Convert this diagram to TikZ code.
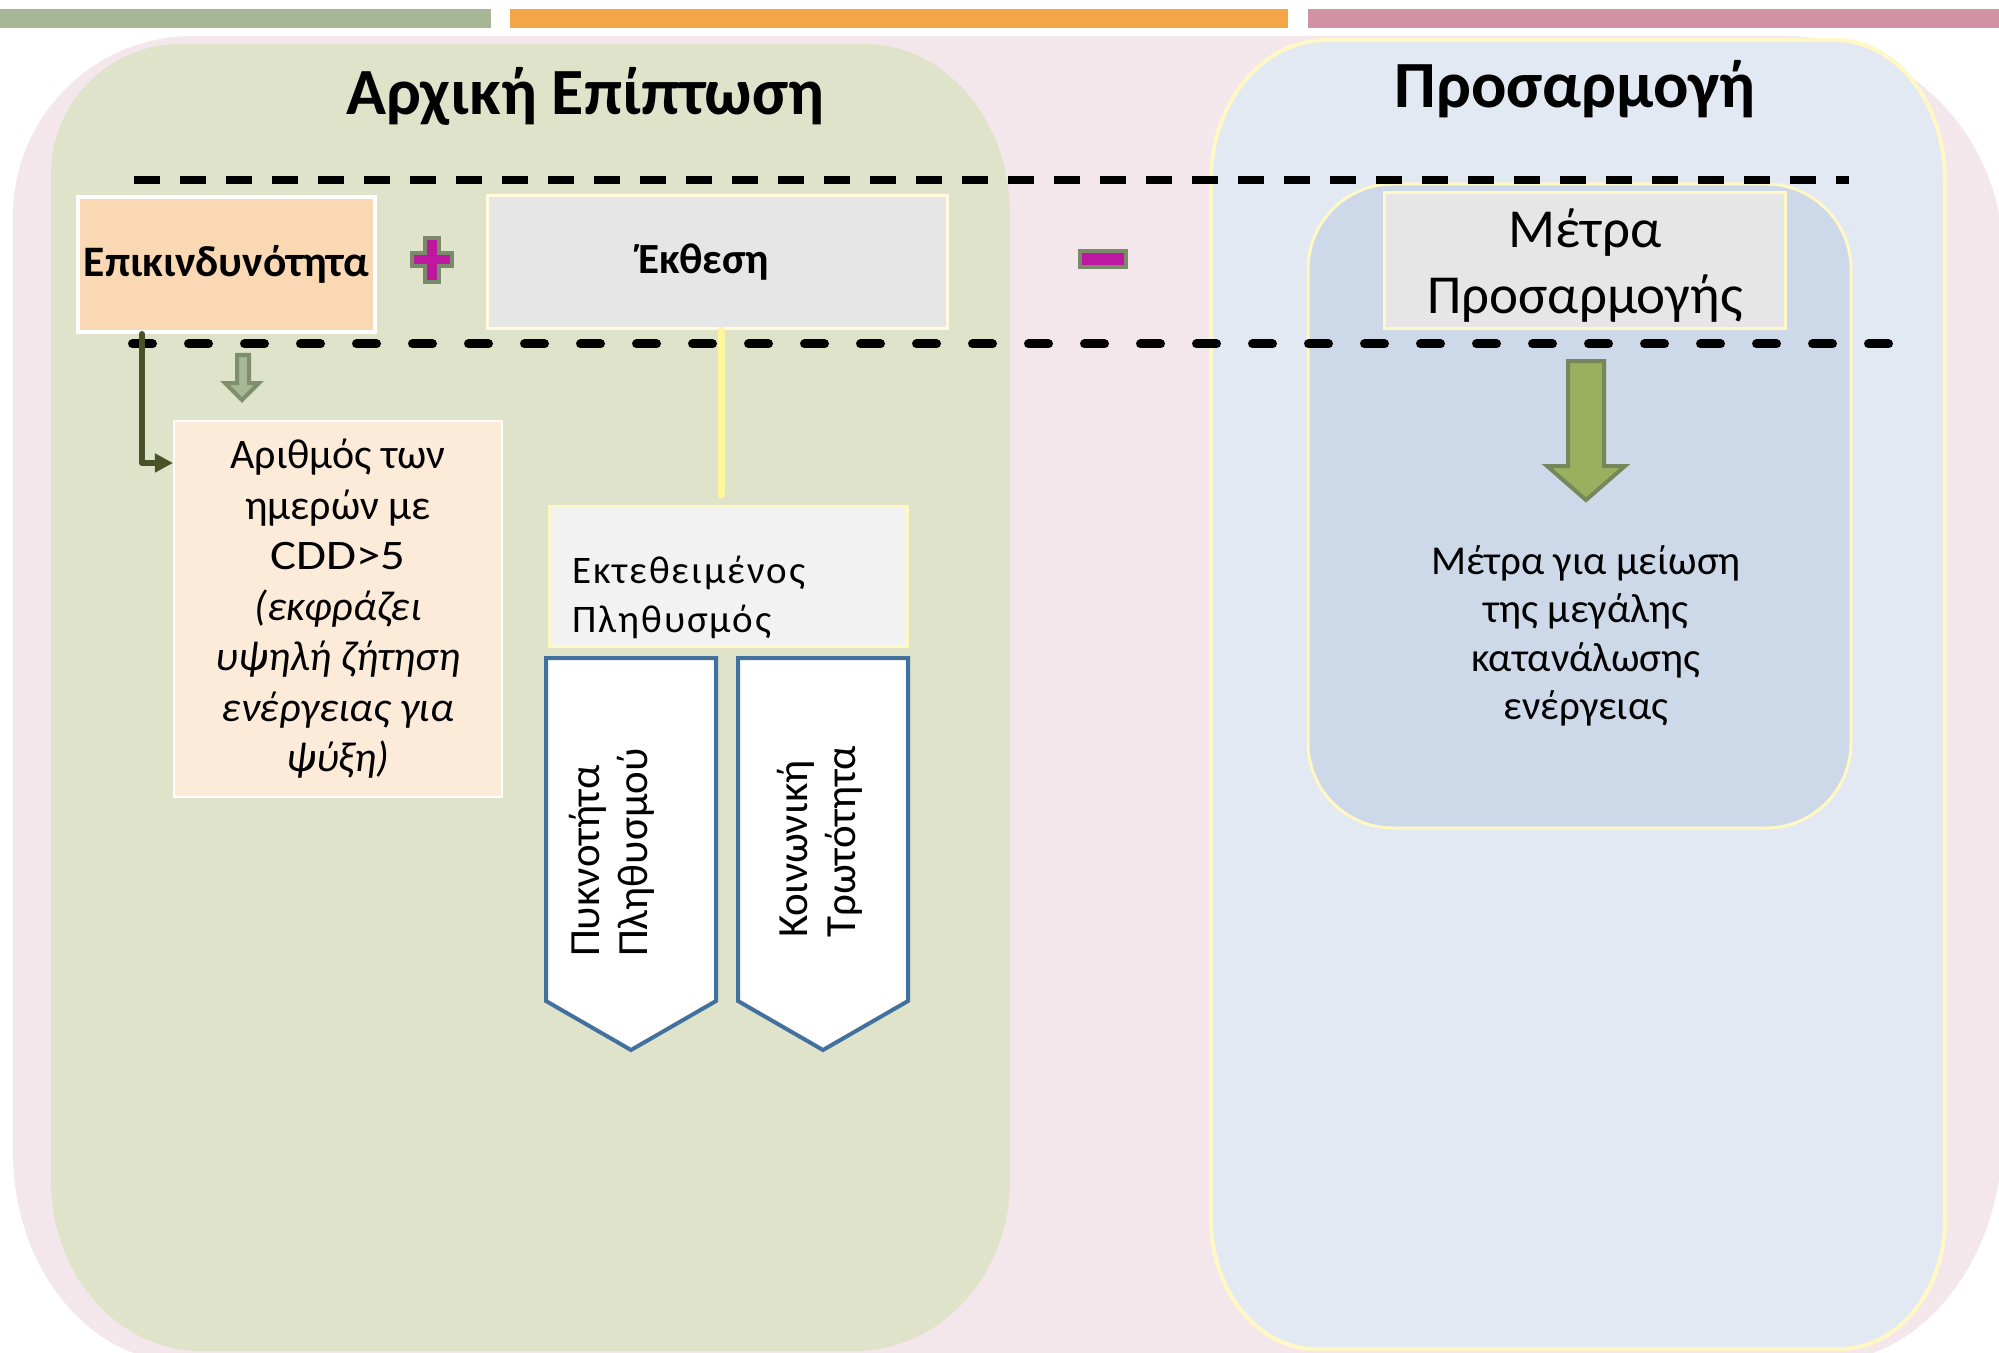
\documentclass[tikz,border=0pt]{standalone}
\usepackage{fontspec}
\setmainfont{Carlito}
\usetikzlibrary{arrows.meta}
\definecolor{barG}{HTML}{A7B694}
\definecolor{barO}{HTML}{F3A548}
\definecolor{barP}{HTML}{D192A6}
\definecolor{pinkbg}{HTML}{F3E7EC}
\definecolor{greenp}{HTML}{DFE3CA}
\definecolor{bluep}{HTML}{E3E9F2}
\definecolor{innerb}{HTML}{CDD9E8}
\definecolor{yellowb}{HTML}{FFF8C5}
\definecolor{peach}{HTML}{FAD8B3}
\definecolor{lpeach}{HTML}{FDEBDA}
\definecolor{grayb}{HTML}{E6E6E6}
\definecolor{lgrayb}{HTML}{F2F2F2}
\definecolor{pentblue}{HTML}{41719C}
\definecolor{olived}{HTML}{4A5327}
\definecolor{crossol}{HTML}{7C8A6C}
\definecolor{magent}{HTML}{BE17A0}
\definecolor{sarrF}{HTML}{A8B795}
\definecolor{sarrD}{HTML}{7E8F6B}
\definecolor{barrF}{HTML}{9BB05F}
\definecolor{barrD}{HTML}{76875C}
\definecolor{yline}{HTML}{FFF59C}
\begin{document}
\begin{tikzpicture}[x=1bp,y=-1bp,
  boxst/.style={rectangle, inner sep=0pt, align=center},
  dashA/.style={line width=8bp, dash pattern=on 26bp off 20bp},
  dashB/.style={line width=9bp, line cap=round, dash pattern=on 20bp off 36bp},
  pent/.style={draw=pentblue, fill=white, line width=4bp, line join=miter},
  signst/.style={draw=crossol, fill=magent, line width=4bp, line join=miter},
  conn/.style={draw=olived, line width=6bp, line cap=round, line join=round,
     -{Triangle[length=18bp,width=18bp]}},
  yconn/.style={draw=yline, line width=7bp, line cap=round},
  rottext/.style={rotate=90, anchor=west, align=left, inner sep=0pt,
     font=\fontsize{43bp}{48bp}\selectfont}
]
\useasboundingbox (0,0) rectangle (1999,1353);
\clip (0,0) rectangle (1999,1353);
\fill[white] (0,0) rectangle (1999,1353);
% top bars
\fill[barG] (0,9) rectangle (491,28);
\fill[barO] (510,9) rectangle (1288,28);
\fill[barP] (1308,9) rectangle (1999,28);
% pink background
\fill[pinkbg] (13,216) arc[start angle=180,end angle=270,radius=180]
  -- (1783,36) arc[start angle=270,end angle=360,radius=220]
  -- (2003,1132) arc[start angle=0,end angle=90,x radius=180,y radius=230]
  -- (183,1362) arc[start angle=90,end angle=180,x radius=170,y radius=210]
  -- cycle;
% green panel
\fill[greenp] (51,174) arc[start angle=180,end angle=270,radius=130]
  -- (865,44) arc[start angle=270,end angle=360,x radius=145,y radius=170]
  -- (1010,1181) arc[start angle=0,end angle=90,x radius=155,y radius=170]
  -- (201,1351) arc[start angle=90,end angle=180,x radius=150,y radius=170]
  -- cycle;
% blue panel
\draw[fill=bluep, draw=yellowb, line width=4bp]
  (1211,180) arc[start angle=180,end angle=270,x radius=115,y radius=140]
  -- (1835,40) arc[start angle=270,end angle=360,x radius=110,y radius=140]
  -- (1945,1219) arc[start angle=0,end angle=90,x radius=105,y radius=130]
  -- (1316,1349) arc[start angle=90,end angle=180,x radius=105,y radius=130]
  -- cycle;
% inner blue rounded rectangle
\draw[fill=innerb, draw=yellowb, line width=3bp, rounded corners=85bp]
  (1308,184) rectangle (1851,828);
% titles
\node[inner sep=0pt, anchor=base, font=\bfseries\fontsize{66bp}{80bp}\selectfont]
  (t1) at (585,115) {Αρχική Επίπτωση};
\node[inner sep=0pt, anchor=base, font=\bfseries\fontsize{66bp}{80bp}\selectfont]
  (t2) at (1575,108) {Προσαρμογή};
% dashed lines
\draw[dashA] (134,180) -- (1849,180);
\draw[dashB] (132.5,344) -- (1895,344);
% boxes
\node[boxst, fill=peach, draw=white, line width=4bp, minimum width=297bp,
  minimum height=135bp, font=\bfseries\fontsize{43.5bp}{50bp}\selectfont]
  (risk) at (226.5,264.5) {Επικινδυνότητα};
\node[boxst, fill=grayb, draw=yellowb!60!white, line width=3bp, minimum width=460bp,
  minimum height=133bp, font=\bfseries\fontsize{43bp}{50bp}\selectfont]
  (ekth) at (717.5,262) {Έκθεση\kern28bp};
\node[boxst, fill=lpeach, draw=white, line width=2bp, minimum width=328bp,
  minimum height=376bp, font=\fontsize{42bp}{50.5bp}\selectfont]
  (arith) at (338,609) {Αριθμός των\\ημερών με\\\scalebox{1.16}[1]{CDD>5}\\\textit{(εκφράζει}\\\textit{υψηλή ζήτηση}\\\textit{ενέργειας για}\\\textit{ψύξη)}};
\node[boxst, fill=lgrayb, draw=yellowb, line width=3bp, minimum width=358bp,
  minimum height=140bp] (ekt) at (728.5,576.5) {};
\node[inner sep=0pt, anchor=base west, font=\fontsize{39bp}{49bp}\selectfont\addfontfeatures{LetterSpace=5}]
  (ekt1) at (572,583) {Εκτεθειμένος};
\node[inner sep=0pt, anchor=base west, font=\fontsize{39bp}{49bp}\selectfont\addfontfeatures{LetterSpace=5}]
  (ekt2) at (572,632) {Πληθυσμός};
\node[boxst, fill=grayb, draw=yellowb, line width=3bp, minimum width=401bp,
  minimum height=136bp] (metra) at (1585,260.5) {};
\node[inner sep=0pt, align=center, font=\fontsize{55bp}{66bp}\selectfont]
  (metrat) at (1585,266) {Μέτρα\\Προσαρμογής};
% plus and minus signs
\draw[signst] (425,238) -- (439,238) -- (439,253.5) -- (452,253.5) -- (452,266.5)
  -- (439,266.5) -- (439,282) -- (425,282) -- (425,266.5) -- (412,266.5)
  -- (412,253.5) -- (425,253.5) -- cycle;
\draw[signst] (1080,251) rectangle (1126,267);
% small hollow arrow
\draw[fill=sarrF, draw=sarrD, line width=4bp, line join=miter]
  (237,355) -- (249,355) -- (249,383) -- (259,383) -- (242,400) -- (225,383)
  -- (237,383) -- cycle;
% big green arrow
\draw[fill=barrF, draw=barrD, line width=4bp, line join=miter]
  (1568,361) -- (1604,361) -- (1604,466) -- (1625,466) -- (1586,500)
  -- (1547,466) -- (1568,466) -- cycle;
% pentagons
\draw[pent] (546,658) -- (716,658) -- (716,1001) -- (631,1050) -- (546,1001) -- cycle;
\draw[pent] (738,658) -- (908,658) -- (908,1001) -- (823,1050) -- (738,1001) -- cycle;
\node[rottext] (pyk) at (612,957) {Πυκνοτήτα\\Πληθυσμού};
\node[rottext] (koin) at (820,938) {Κοινωνική\\Τρωτότητα};
% right text
\node[inner sep=0pt, align=center, font=\fontsize{41bp}{48.5bp}\selectfont]
  (meas) at (1586,636) {Μέτρα για μείωση\\της μεγάλης\\κατανάλωσης\\ενέργειας};
% connectors
\coordinate (lcx) at (142,0);
\coordinate (lcy) at (0,463);
\draw[conn] (risk.south -| lcx) |- (arith.west |- lcy);
\coordinate (ycx) at (721,0);
\draw[yconn, shorten >=10bp] (ekth.south -| ycx) -- (ekt.north -| ycx);
\end{tikzpicture}
\end{document}
